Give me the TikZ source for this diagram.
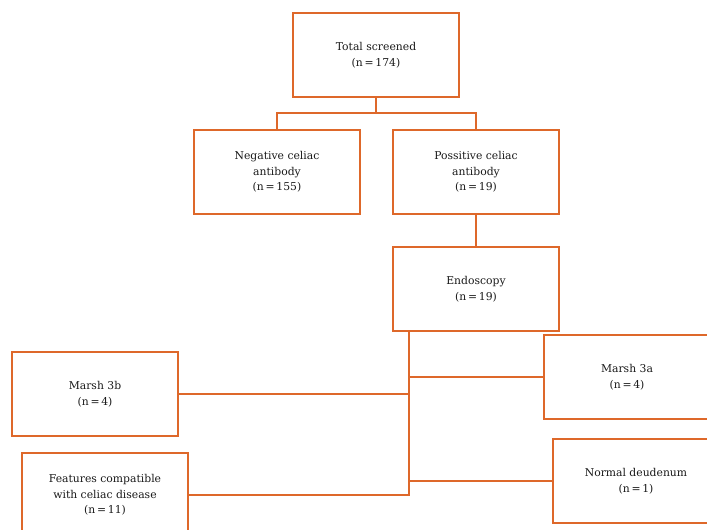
\documentclass[tikz,border=0pt]{standalone}
\usepackage{fontspec}
\setmainfont{DejaVu Serif}
\definecolor{flowline}{RGB}{222,104,42}

\begin{document}
\begin{tikzpicture}[x=1pt, y=-1pt,
    stagebox/.style={draw=flowline, line width=2pt, minimum width=166pt, minimum height=84pt,
      align=center, font=\fontsize{10.8}{15.5}\selectfont, text=black!90},
    link/.style={draw=flowline, line width=2pt}]
    \useasboundingbox (0,0) rectangle (707,530);
    \clip (0,0) rectangle (707,530);
    % top row
    \node[stagebox] (total) at (376,55) {Total screened\\(n\,=\,174)};
    \node[stagebox] (neg) at (277,172) {Negative celiac\\antibody\\(n\,=\,155)};
    \node[stagebox] (pos) at (476,172) {Possitive celiac\\antibody\\(n\,=\,19)};
    \node[stagebox] (endo) at (476,289) {Endoscopy\\(n\,=\,19)};
    % results of endoscopy
    \node[stagebox] (m3b) at (95,394) {Marsh 3b\\(n\,=\,4)};
    \node[stagebox] (m3a) at (627,377) {Marsh 3a\\(n\,=\,4)};
    \node[stagebox] (feat) at (105,495) {Features compatible\\with celiac disease\\(n\,=\,11)};
    \node[stagebox] (norm) at (636,481) {Normal deudenum\\(n\,=\,1)};
    % connectors
    \coordinate (split) at (376,113);
    \coordinate (trunk) at ([xshift=17pt]endo.south west);
    \draw[link] (total.south) -- (split);
    \draw[link] (neg.north) |- (split) -| (pos.north);
    \draw[link] (pos.south) -- (endo.north);
    \draw[link] (trunk) -- (trunk |- feat.east) -- (feat.east);
    \draw[link] (m3b.east) -- (m3b.east -| trunk);
    \draw[link] (m3a.west) -- (m3a.west -| trunk);
    \draw[link] (norm.west) -- (norm.west -| trunk);
  \end{tikzpicture}
\end{document}
